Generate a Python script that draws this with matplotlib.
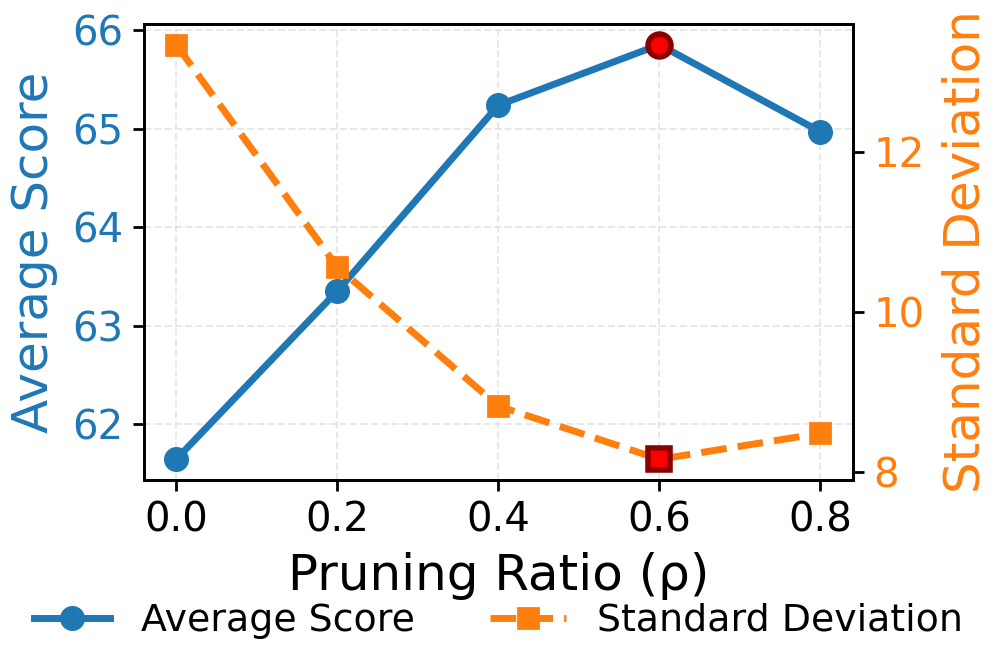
import matplotlib
matplotlib.use("Agg")
import matplotlib.pyplot as plt
import numpy as np

ratios = [0.0, 0.2, 0.4, 0.6, 0.8]
avg_score = [61.64, 63.35, 65.24, 65.855, 64.97]
std_dev = [13.34, 10.56, 8.82, 8.155, 8.48]
best_idx = 3

blue = "#1f77b4"
orange = "#ff7f0e"

fig = plt.figure(figsize=(9.97, 6.72), dpi=100)
ax = fig.add_axes([144/997, 1-480/672, (852.7-144)/997, (480-24)/672])
ax2 = ax.twinx()

l1, = ax.plot(ratios, avg_score, color=blue, lw=5, marker="o", ms=16, mew=2,
              label="Average Score", zorder=3)
l2, = ax2.plot(ratios, std_dev, color=orange, lw=5, ls="--", marker="s", ms=15, mew=2,
               label="Standard Deviation", zorder=3)
ax.plot([ratios[best_idx]], [avg_score[best_idx]], marker="o", ms=16.5, mfc="red",
        mec="darkred", mew=4, ls="none", zorder=4)
ax2.plot([ratios[best_idx]], [std_dev[best_idx]], marker="s", ms=15.5, mfc="red",
         mec="darkred", mew=4, ls="none", zorder=4)

ax.grid(True, ls="--", color="#d9d9d9", alpha=0.6, lw=1.4)
ax.set_axisbelow(True)

ax.set_xticks(ratios)
ax.set_xticklabels([f"{r:.1f}" for r in ratios])
ax.set_yticks([62, 63, 64, 65, 66])
ax2.set_yticks([8, 10, 12])

ax.set_xlabel("Pruning Ratio (ρ)", fontsize=36, labelpad=8)
ax.set_ylabel("Average Score", fontsize=36, color=blue, labelpad=10)
ax2.set_ylabel("Standard Deviation", fontsize=36, color=orange, labelpad=12)

ax.tick_params(axis="x", labelsize=29, length=8, width=2, pad=7)
ax.tick_params(axis="y", labelsize=29, labelcolor=blue, length=8, width=2, pad=7)
ax2.tick_params(axis="y", labelsize=29, labelcolor=orange, length=8, width=2, pad=7)

for a in (ax, ax2):
    for s in a.spines.values():
        s.set_linewidth(2)

fig.legend(handles=[l1, l2], loc="center", bbox_to_anchor=(0.5, 0.076),
           ncol=2, frameon=False, fontsize=27.3)

fig.savefig("out.png", dpi=100)
